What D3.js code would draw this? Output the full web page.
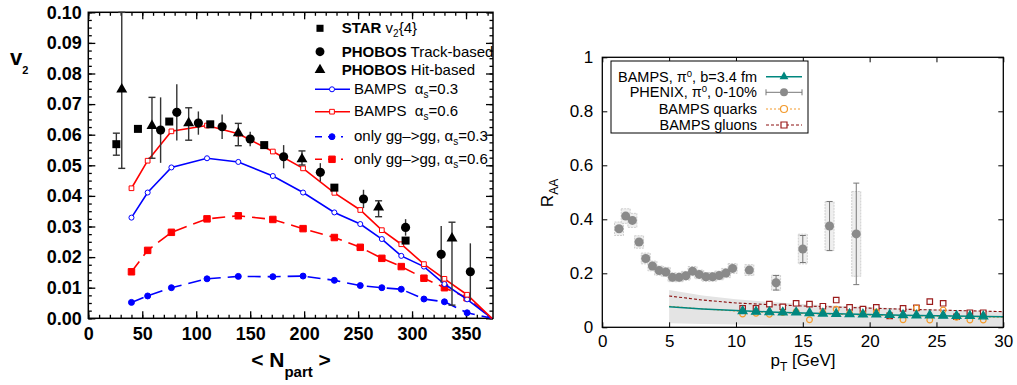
<!DOCTYPE html>
<html>
<head>
<meta charset="utf-8">
<script src="https://cdn.jsdelivr.net/npm/d3@7"></script>
<style>
body { margin: 0; background: #fff; }
text { font-family: "Liberation Sans", Arial, sans-serif; white-space: pre; }
</style>
</head>
<body>
<svg id="chart" width="1017" height="385"></svg>
<script>
// ---------- left panel: v2 vs Npart ----------
var npart_model = [40, 55, 77, 110, 139, 171, 199, 228, 252, 272, 290, 311, 330, 351, 374];
var bamps_03 = [0.0329, 0.0411, 0.0493, 0.0523, 0.0511, 0.0465, 0.0411, 0.0346, 0.0308, 0.0259, 0.0204, 0.0169, 0.0112, 0.0062, 0.0];
var bamps_06 = [0.0425, 0.0515, 0.0611, 0.0630, 0.0603, 0.0545, 0.0490, 0.0410, 0.0354, 0.0288, 0.0242, 0.0177, 0.0129, 0.0077, 0.0];
var gg_03 = [0.0052, 0.0073, 0.0100, 0.0129, 0.0137, 0.0136, 0.0138, 0.0124, 0.0107, 0.0100, 0.0095, 0.0063, 0.0054, 0.0018, 0.0];
var gg_06 = [0.0152, 0.0222, 0.0281, 0.0325, 0.0335, 0.0323, 0.0293, 0.0264, 0.0232, 0.0196, 0.0169, 0.0131, 0.0100, 0.0067, 0.0];

var star_n = [26, 46, 75, 113, 163, 228, 294];
var star_v = [0.0569, 0.0619, 0.0643, 0.0634, 0.0566, 0.0427, 0.0254];
var star_err = [0.0036, 0, 0, 0, 0, 0, 0];

var track_n = [67, 82, 102, 124, 150, 181, 215, 255, 294, 327, 354];
var track_v = [0.0615, 0.0673, 0.0638, 0.0626, 0.0586, 0.0528, 0.0477, 0.0390, 0.0297, 0.0209, 0.0152];
var track_err = [0.0107, 0.0092, 0.0038, 0.0040, 0.0024, 0.0038, 0.0030, 0.0030, 0.0027, 0.0093, 0.0093];

var hit_n = [31, 59, 93, 139, 198, 269, 337];
var hit_v = [0.0748, 0.0629, 0.0638, 0.0605, 0.0520, 0.0363, 0.0261];
var hit_lo = [0.0258, 0.0106, 0.0056, 0.0041, 0.0019, 0.0031, 0.0218];
var hit_hi = [0.0258, 0.0093, 0.0050, 0.0032, 0.0027, 0.0021, 0.0053];

var xL_ticks = [0, 50, 100, 150, 200, 250, 300, 350];
var yL_ticks = [0, 0.01, 0.02, 0.03, 0.04, 0.05, 0.06, 0.07, 0.08, 0.09, 0.10];

// ---------- right panel: RAA vs pT ----------
var phenix_pt = [1.25, 1.75, 2.25, 2.75, 3.25, 3.75, 4.25, 4.75, 5.25, 5.75, 6.25, 6.75, 7.25, 7.75, 8.25, 8.75, 9.25, 9.75, 11, 13, 15, 17, 19];
var phenix_raa = [0.365, 0.412, 0.396, 0.316, 0.255, 0.227, 0.210, 0.205, 0.185, 0.185, 0.191, 0.208, 0.196, 0.187, 0.187, 0.192, 0.201, 0.218, 0.212, 0.165, 0.290, 0.375, 0.346];
var phenix_stat = [0.008, 0.008, 0.008, 0.008, 0.007, 0.006, 0.006, 0.006, 0.006, 0.006, 0.006, 0.006, 0.006, 0.006, 0.006, 0.007, 0.008, 0.010, 0.010, 0.027, 0.050, 0.091, 0.188];
var phenix_sys = [0.025, 0.027, 0.026, 0.023, 0.020, 0.018, 0.017, 0.017, 0.016, 0.016, 0.016, 0.017, 0.016, 0.016, 0.016, 0.016, 0.017, 0.018, 0.020, 0.028, 0.055, 0.090, 0.157];

var bamps_pt = [10.5, 11.5, 12.5, 13.5, 14.5, 15.5, 16.5, 17.5, 18.5, 19.5, 20.5, 21.5, 22.5, 23.5, 24.5, 25.5, 26.5, 27.5, 28.5];
var bamps_pi0 = [0.060, 0.058, 0.056, 0.055, 0.055, 0.053, 0.051, 0.050, 0.049, 0.048, 0.048, 0.046, 0.045, 0.044, 0.044, 0.043, 0.042, 0.042, 0.041];
var bamps_quarks = [0.049, 0.052, 0.048, 0.055, 0.058, 0.028, 0.055, 0.067, 0.052, 0.050, 0.057, 0.045, 0.028, 0.072, 0.027, 0.064, 0.037, 0.027, 0.027];
var bamps_gluons = [0.070, 0.070, 0.086, 0.076, 0.089, 0.086, 0.078, 0.101, 0.074, 0.067, 0.074, 0.042, 0.070, 0.072, 0.095, 0.089, 0.039, 0.054, 0.054];

var curve_pt = [5, 7.5, 10, 12.5, 15, 17.5, 20, 22.5, 25, 27.5, 30];
var curve_pi0 = [0.076, 0.068, 0.062, 0.057, 0.053, 0.050, 0.047, 0.045, 0.043, 0.041, 0.039];
var curve_quarks = [0.078, 0.068, 0.060, 0.055, 0.051, 0.048, 0.045, 0.043, 0.041, 0.039, 0.037];
var curve_gluons = [0.116, 0.101, 0.090, 0.084, 0.079, 0.075, 0.071, 0.067, 0.064, 0.061, 0.058];
var band_hi = [0.138, 0.118, 0.104, 0.094, 0.086, 0.080, 0.075, 0.070, 0.066, 0.062, 0.058];
var band_lo = [0.015, 0.012, 0.010, 0.008, 0.007, 0.006, 0.005, 0.005, 0.004, 0.004, 0.004];

var xR_ticks = [0, 5, 10, 15, 20, 25, 30];
var yR_ticks = [0, 0.2, 0.4, 0.6, 0.8, 1];

var svg = d3.select("#chart");

// text with sub/superscripts, parts = [{t, b, dy, fs}]
function addText(g, x, y, parts, size, anchor) {
  var t = g.append("text").attr("x", x).attr("y", y)
    .attr("font-size", size).attr("text-anchor", anchor || "start");
  var shift = 0;
  parts.forEach(function(p) {
    var off = p.dy || 0;
    var ts = t.append("tspan").attr("dy", off - shift).text(p.t);
    if (p.fs) ts.attr("font-size", p.fs);
    if (p.b) ts.attr("font-weight", "bold");
    shift = off;
  });
  return t;
}

function zip(a, b) { return a.map(function(d, i) { return [d, b[i]]; }); }

// ================= LEFT =================
var xL = d3.scaleLinear().domain([0, 375]).range([88.3, 493]);
var yL = d3.scaleLinear().domain([0, 0.1]).range([318.3, 12.3]);
var gL = svg.append("g");

function cleanAxis(g) {
  g.select(".domain").remove();
  g.selectAll("line").attr("stroke", "#000").attr("stroke-width", 1.3);
}

// minor ticks on all four sides
var xMinor = d3.range(0, 376, 10), yMinor = d3.range(0, 0.1001, 0.0025);
gL.append("g").attr("transform", "translate(0," + yL(0) + ")")
  .call(d3.axisBottom(xL).tickValues(xMinor).tickSize(-3.5).tickFormat("")).call(cleanAxis);
gL.append("g").attr("transform", "translate(0," + yL(0.1) + ")")
  .call(d3.axisTop(xL).tickValues(xMinor).tickSize(-3.5).tickFormat("")).call(cleanAxis);
gL.append("g").attr("transform", "translate(" + xL(0) + ",0)")
  .call(d3.axisLeft(yL).tickValues(yMinor).tickSize(-3.5).tickFormat("")).call(cleanAxis);
gL.append("g").attr("transform", "translate(" + xL(375) + ",0)")
  .call(d3.axisRight(yL).tickValues(yMinor).tickSize(-3.5).tickFormat("")).call(cleanAxis);

// major ticks + labels
var axBL = gL.append("g").attr("transform", "translate(0," + yL(0) + ")")
  .call(d3.axisBottom(xL).tickValues(xL_ticks).tickSize(-7).tickPadding(9).tickFormat(d3.format("d")));
var axLL = gL.append("g").attr("transform", "translate(" + xL(0) + ",0)")
  .call(d3.axisLeft(yL).tickValues(yL_ticks).tickSize(-7).tickPadding(6.6).tickFormat(d3.format(".2f")));
gL.append("g").attr("transform", "translate(0," + yL(0.1) + ")")
  .call(d3.axisTop(xL).tickValues(xL_ticks).tickSize(-7).tickFormat("")).call(cleanAxis);
gL.append("g").attr("transform", "translate(" + xL(375) + ",0)")
  .call(d3.axisRight(yL).tickValues(yL_ticks).tickSize(-7).tickFormat("")).call(cleanAxis);
[axBL, axLL].forEach(function(a) {
  a.call(cleanAxis);
  a.attr("font-family", null).attr("font-size", null);
  a.selectAll("text").attr("font-size", 18).attr("font-weight", "bold").attr("fill", "#000");
});

gL.append("rect").attr("x", xL(0)).attr("y", yL(0.1))
  .attr("width", xL(375) - xL(0)).attr("height", yL(0) - yL(0.1))
  .attr("fill", "none").attr("stroke", "#000").attr("stroke-width", 1.5);

// model curves
var lineL = d3.line().x(function(d) { return xL(d[0]); }).y(function(d) { return yL(d[1]); });
var models = [
  {v: gg_03, color: "#0000ff", dash: "13,7", sym: d3.symbolCircle, size: 28, fill: true},
  {v: gg_06, color: "#ff0000", dash: "13,7", sym: d3.symbolSquare, size: 42, fill: true},
  {v: bamps_03, color: "#0000ff", dash: null, sym: d3.symbolCircle, size: 20, fill: false},
  {v: bamps_06, color: "#ff0000", dash: null, sym: d3.symbolSquare, size: 22, fill: false}
];
models.forEach(function(m) {
  var pts = zip(npart_model, m.v);
  gL.append("path").datum(pts).attr("d", lineL)
    .attr("fill", "none").attr("stroke", m.color).attr("stroke-width", 1.6)
    .attr("stroke-dasharray", m.dash);
  gL.selectAll(null).data(pts.slice(0, -1)).enter().append("path")
    .attr("d", d3.symbol().type(m.sym).size(m.size))
    .attr("transform", function(d) { return "translate(" + xL(d[0]) + "," + yL(d[1]) + ")"; })
    .attr("fill", m.fill ? m.color : "#fff").attr("stroke", m.color).attr("stroke-width", 1);
});

// data with error bars
function dataSet(n, v, lo, hi, sym, size, cap) {
  var g = gL.append("g");
  n.forEach(function(x, i) {
    if (lo[i] > 0 || hi[i] > 0) {
      var top = Math.min(v[i] + hi[i], 0.1);
      g.append("line").attr("x1", xL(x)).attr("x2", xL(x))
        .attr("y1", yL(v[i] - lo[i])).attr("y2", yL(top))
        .attr("stroke", "#333").attr("stroke-width", 1.4);
      if (cap) {
        [v[i] - lo[i], top].forEach(function(c) {
          g.append("line").attr("x1", xL(x) - 3.5).attr("x2", xL(x) + 3.5)
            .attr("y1", yL(c)).attr("y2", yL(c)).attr("stroke", "#333").attr("stroke-width", 1.4);
        });
      }
    }
    g.append("path").attr("d", d3.symbol().type(sym).size(size))
      .attr("transform", "translate(" + xL(x) + "," + yL(v[i]) + ")").attr("fill", "#000");
  });
}
dataSet(star_n, star_v, star_err, star_err, d3.symbolSquare, 64, true);
dataSet(track_n, track_v, track_err, track_err, d3.symbolCircle, 66, false);
dataSet(hit_n, hit_v, hit_lo, hit_hi, d3.symbolTriangle, 52, true);

// axis titles
addText(gL, 10, 65, [{t: "v", b: true}, {t: "2", b: true, dy: 9, fs: 11}], 22);
addText(gL, 291, 367, [{t: "< N", b: true}, {t: "part", b: true, dy: 10, fs: 15}, {t: " >", b: true, dy: 0}], 21, "middle");

// left legend
var legL = gL.append("g");
var legRowsL = [
  {y: 28.3, sym: d3.symbolSquare, size: 50, parts: [{t: "STAR", b: true}, {t: " v"}, {t: "2", dy: 4, fs: 10}, {t: "{4}", dy: 0}]},
  {y: 51.7, sym: d3.symbolCircle, size: 62, parts: [{t: "PHOBOS", b: true}, {t: " Track-based"}]},
  {y: 70, sym: d3.symbolTriangle, size: 50, parts: [{t: "PHOBOS", b: true}, {t: " Hit-based"}]}
];
legRowsL.forEach(function(r) {
  legL.append("path").attr("d", d3.symbol().type(r.sym).size(r.size))
    .attr("transform", "translate(320," + r.y + ")").attr("fill", "#000");
  addText(legL, 341.7, r.y + 5, r.parts, 15);
});
var legLinesL = [
  {y: 89.3, m: models[2], parts: [{t: "BAMPS  α"}, {t: "s", dy: 4, fs: 10}, {t: "=0.3", dy: 0}]},
  {y: 111.7, m: models[3], parts: [{t: "BAMPS  α"}, {t: "s", dy: 4, fs: 10}, {t: "=0.6", dy: 0}]},
  {y: 136.7, m: models[0], parts: [{t: "only gg–>gg, α"}, {t: "s", dy: 4, fs: 10}, {t: "=0.3", dy: 0}]},
  {y: 159.3, m: models[1], parts: [{t: "only gg–>gg, α"}, {t: "s", dy: 4, fs: 10}, {t: "=0.6", dy: 0}]}
];
legLinesL.forEach(function(r) {
  var m = r.m;
  legL.append("line").attr("x1", 315).attr("x2", m.dash ? 343 : 350)
    .attr("y1", r.y).attr("y2", r.y).attr("stroke", m.color).attr("stroke-width", 1.6)
    .attr("stroke-dasharray", m.dash ? "7,6" : null);
  legL.append("path").attr("d", d3.symbol().type(m.sym).size(m.size))
    .attr("transform", "translate(332," + r.y + ")")
    .attr("fill", m.fill ? m.color : "#fff").attr("stroke", m.color).attr("stroke-width", 1);
  addText(legL, 354, r.y + 4.5, r.parts, 15);
});

// ================= RIGHT =================
var xR = d3.scaleLinear().domain([0, 30]).range([602.3, 1003.3]);
var yR = d3.scaleLinear().domain([0, 1]).range([327.3, 57.3]);
var gR = svg.append("g");

// BAMPS band
var area = d3.area().x(function(d, i) { return xR(curve_pt[i]); })
  .y0(function(d, i) { return yR(band_lo[i]); }).y1(function(d, i) { return yR(band_hi[i]); });
gR.append("path").datum(curve_pt).attr("d", area).attr("fill", "#e4e4e4");

// PHENIX systematic boxes and stat bars
phenix_pt.forEach(function(p, i) {
  gR.append("rect").attr("x", xR(p) - 4.5).attr("width", 9)
    .attr("y", yR(phenix_raa[i] + phenix_sys[i]))
    .attr("height", yR(phenix_raa[i] - phenix_sys[i]) - yR(phenix_raa[i] + phenix_sys[i]))
    .attr("fill", "#efefef").attr("stroke", "#c4c4c4").attr("stroke-width", 0.8)
    .attr("stroke-dasharray", "2,1");
});
phenix_pt.forEach(function(p, i) {
  var y1 = yR(phenix_raa[i] - phenix_stat[i]), y2 = yR(phenix_raa[i] + phenix_stat[i]);
  gR.append("line").attr("x1", xR(p)).attr("x2", xR(p)).attr("y1", y1).attr("y2", y2)
    .attr("stroke", "#777").attr("stroke-width", 1);
  if (phenix_stat[i] > 0.02) {
    [y1, y2].forEach(function(y) {
      gR.append("line").attr("x1", xR(p) - 3).attr("x2", xR(p) + 3).attr("y1", y).attr("y2", y)
        .attr("stroke", "#777").attr("stroke-width", 1);
    });
  }
});
gR.selectAll(null).data(phenix_pt).enter().append("circle")
  .attr("cx", function(d) { return xR(d); })
  .attr("cy", function(d, i) { return yR(phenix_raa[i]); })
  .attr("r", 4.5).attr("fill", "#8a8a8a");

// BAMPS curves
var lineR = d3.line().x(function(d) { return xR(d[0]); }).y(function(d) { return yR(d[1]); });
gR.append("path").datum(zip(curve_pt, curve_gluons)).attr("d", lineR)
  .attr("fill", "none").attr("stroke", "#8b1010").attr("stroke-width", 1.1).attr("stroke-dasharray", "3,2");
gR.append("path").datum(zip(curve_pt, curve_quarks)).attr("d", lineR)
  .attr("fill", "none").attr("stroke", "#f39a2c").attr("stroke-width", 1).attr("stroke-dasharray", "2,2");
gR.append("path").datum(zip(curve_pt, curve_pi0)).attr("d", lineR)
  .attr("fill", "none").attr("stroke", "#00877f").attr("stroke-width", 1.5);

// BAMPS markers
var markR = [
  {v: bamps_gluons, sym: d3.symbolSquare, size: 30, stroke: "#9b1c1c", fill: "#fff"},
  {v: bamps_quarks, sym: d3.symbolCircle, size: 26, stroke: "#f39a2c", fill: "none"},
  {v: bamps_pi0, sym: d3.symbolTriangle, size: 34, stroke: "#00877f", fill: "#00877f"}
];
markR.forEach(function(m) {
  gR.selectAll(null).data(bamps_pt).enter().append("path")
    .attr("d", d3.symbol().type(m.sym).size(m.size))
    .attr("transform", function(d, i) { return "translate(" + xR(d) + "," + yR(m.v[i]) + ")"; })
    .attr("fill", m.fill).attr("stroke", m.stroke).attr("stroke-width", 1.2);
});

// axes
function styleR(a) {
  a.select(".domain").remove();
  a.attr("font-family", null).attr("font-size", null);
  a.selectAll("line").attr("stroke", "#000").attr("stroke-width", 1);
  a.selectAll("text").attr("font-size", 17).attr("fill", "#000");
}
gR.append("g").attr("transform", "translate(0," + yR(0) + ")")
  .call(d3.axisBottom(xR).tickValues(xR_ticks).tickSize(-5).tickPadding(7.6)).call(styleR);
gR.append("g").attr("transform", "translate(" + xR(0) + ",0)")
  .call(d3.axisLeft(yR).tickValues(yR_ticks).tickSize(-5).tickPadding(9).tickFormat(d3.format("~g"))).call(styleR);
gR.append("g").attr("transform", "translate(0," + yR(1) + ")")
  .call(d3.axisTop(xR).tickValues(xR_ticks).tickSize(-5).tickFormat("")).call(styleR);
gR.append("g").attr("transform", "translate(" + xR(30) + ",0)")
  .call(d3.axisRight(yR).tickValues(yR_ticks).tickSize(-5).tickFormat("")).call(styleR);
gR.append("rect").attr("x", xR(0)).attr("y", yR(1))
  .attr("width", xR(30) - xR(0)).attr("height", yR(0) - yR(1))
  .attr("fill", "none").attr("stroke", "#000").attr("stroke-width", 1.3);

addText(gR, 803, 366, [{t: "p"}, {t: "T", dy: 5, fs: 12}, {t: " [GeV]", dy: 0}], 17, "middle");
addText(gR, 0, 0, [{t: "R"}, {t: "AA", dy: 5, fs: 12}], 17, "middle")
  .attr("transform", "translate(553,193) rotate(-90)");

// right legend
var legR = gR.append("g");
legR.append("rect").attr("x", 611).attr("y", 61).attr("width", 197).attr("height", 72)
  .attr("fill", "#fff").attr("stroke", "#000").attr("stroke-width", 1);
var legRowsR = [
  {y: 76.7, parts: [{t: "BAMPS, π"}, {t: "0", dy: -5, fs: 9.5}, {t: ", b=3.4 fm", dy: 0}]},
  {y: 92.3, parts: [{t: "PHENIX, π"}, {t: "0", dy: -5, fs: 9.5}, {t: ", 0-10%", dy: 0}]},
  {y: 109, parts: [{t: "BAMPS quarks"}]},
  {y: 125, parts: [{t: "BAMPS gluons"}]}
];
legRowsR.forEach(function(r) { addText(legR, 757, r.y + 5, r.parts, 14.5, "end"); });
var r0 = legRowsR[0].y, r1 = legRowsR[1].y, r2 = legRowsR[2].y, r3 = legRowsR[3].y;
legR.append("line").attr("x1", 766).attr("x2", 802).attr("y1", r0).attr("y2", r0)
  .attr("stroke", "#00877f").attr("stroke-width", 1.5);
legR.append("path").attr("d", d3.symbol().type(d3.symbolTriangle).size(34))
  .attr("transform", "translate(784," + r0 + ")").attr("fill", "#00877f");
legR.append("line").attr("x1", 766).attr("x2", 802).attr("y1", r1).attr("y2", r1)
  .attr("stroke", "#777").attr("stroke-width", 1);
[766, 802].forEach(function(x) {
  legR.append("line").attr("x1", x).attr("x2", x).attr("y1", r1 - 3).attr("y2", r1 + 3)
    .attr("stroke", "#777").attr("stroke-width", 1);
});
legR.append("circle").attr("cx", 784).attr("cy", r1).attr("r", 4).attr("fill", "#8a8a8a");
legR.append("line").attr("x1", 766).attr("x2", 802).attr("y1", r2).attr("y2", r2)
  .attr("stroke", "#f39a2c").attr("stroke-width", 1).attr("stroke-dasharray", "2,2");
legR.append("circle").attr("cx", 784).attr("cy", r2).attr("r", 3.5)
  .attr("fill", "#fff").attr("stroke", "#f39a2c").attr("stroke-width", 1.2);
legR.append("line").attr("x1", 766).attr("x2", 802).attr("y1", r3).attr("y2", r3)
  .attr("stroke", "#8b1010").attr("stroke-width", 1).attr("stroke-dasharray", "3,2");
legR.append("path").attr("d", d3.symbol().type(d3.symbolSquare).size(36))
  .attr("transform", "translate(784," + r3 + ")")
  .attr("fill", "#fff").attr("stroke", "#9b1c1c").attr("stroke-width", 1.2);
</script>
</body>
</html>
